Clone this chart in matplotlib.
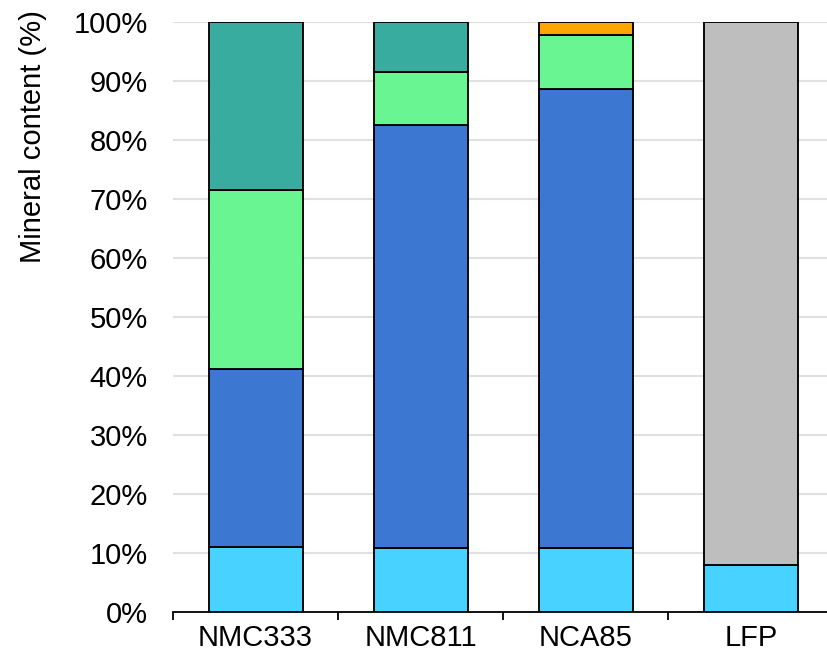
import matplotlib
matplotlib.use("Agg")
import matplotlib.pyplot as plt
import numpy as np

plt.rcParams['font.family'] = ['Liberation Sans', 'DejaVu Sans']

categories = ["NMC333", "NMC811", "NCA85", "LFP"]
segments = ["Li", "Ni", "Co", "Mn", "Al", "Other"]
li = [11.0, 10.9, 10.8, 8.0]
ni = [30.2, 71.7, 77.9, 0.0]
co = [30.4, 9.0, 9.1, 0.0]
mn = [28.4, 8.4, 0.0, 0.0]
al = [0.0, 0.0, 2.2, 0.0]
other = [0.0, 0.0, 0.0, 92.0]
colors = ["#48d2ff", "#3c78d2", "#68f592", "#38ac9e", "#ffa500", "#bebebe"]
yticks = [0, 10, 20, 30, 40, 50, 60, 70, 80, 90, 100]

fig = plt.figure(figsize=(8.28, 6.65), dpi=100)
ax = fig.add_axes([173 / 828, 53 / 665, 660.5 / 828, 590 / 665])

x = np.arange(len(categories))
bottom = np.zeros(len(categories))
for vals, col in zip([li, ni, co, mn, al, other], colors):
    vals = np.array(vals)
    mask = vals > 0
    ax.bar(x[mask], vals[mask], bottom=bottom[mask], width=0.57,
           color=col, edgecolor="black", linewidth=1.35, zorder=3)
    bottom += vals

ax.set_xlim(-0.5, 3.5)
ax.set_ylim(0, 100)
ax.set_yticks(yticks)
ax.set_yticklabels([f"{t}%" for t in yticks])
ax.yaxis.grid(True, color="#e0e0e0", linewidth=1.5, zorder=0)
ax.set_axisbelow(True)

ax.set_xticks(x)
ax.set_xticklabels(categories)
ax.set_xticks([-0.5, 0.5, 1.5, 2.5], minor=True)
ax.tick_params(axis="x", which="major", length=0, pad=9, labelsize=21)
ax.tick_params(axis="x", which="minor", length=6, width=1.3, direction="out")
ax.tick_params(axis="y", length=0, pad=18, labelsize=21)

for s in ["top", "right", "left"]:
    ax.spines[s].set_visible(False)
ax.spines["bottom"].set_linewidth(1.3)

ax.set_ylabel("Mineral content (%)", fontsize=21)
ax.yaxis.set_label_coords(-0.191, 0.805)

fig.savefig("out.png", dpi=100)
